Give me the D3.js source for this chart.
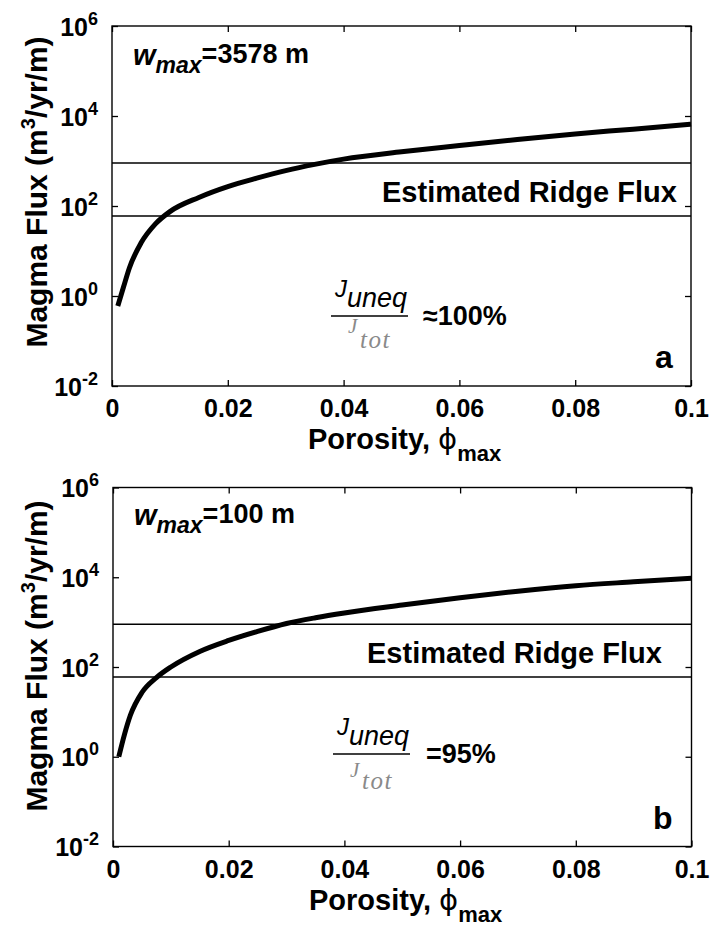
<!DOCTYPE html>
<html>
<head>
<meta charset="utf-8">
<script src="https://cdn.jsdelivr.net/npm/d3@7/dist/d3.min.js"></script>
<style>
  html, body { margin: 0; padding: 0; background: #fff; }
  svg { display: block; }
  text { font-family: "Liberation Sans", Arial, Helvetica, sans-serif; fill: #000; }
</style>
</head>
<body>
<svg id="fig" width="712" height="928"></svg>
<script>
// Maximum porosity (x) and magma flux (y, m^3/yr/m) for the two channel widths
const porosity   = [0.001, 0.002, 0.003, 0.005, 0.0075, 0.01, 0.015, 0.02, 0.025, 0.03, 0.035, 0.04, 0.05, 0.06, 0.07, 0.08, 0.09, 0.1];
const fluxWide   = [0.6, 1.6, 4.2, 15, 40, 75, 155, 270, 415, 610, 840, 1100, 1600, 2200, 3000, 4000, 5100, 6600];
const fluxNarrow = [1.0, 3.2, 8.4, 27, 58, 100, 222, 390, 620, 930, 1250, 1600, 2400, 3500, 4900, 6500, 7900, 9500];

// Axis ticks
const porosityTicks      = [0, 0.02, 0.04, 0.06, 0.08, 0.1];
const porosityTickLabels = ["0", "0.02", "0.04", "0.06", "0.08", "0.1"];
const fluxTicks          = [1e-2, 1e0, 1e2, 1e4, 1e6];
const fluxTickExponents  = ["-2", "0", "2", "4", "6"];

// Estimated ridge flux band (m^3/yr/m)
const ridgeFluxRange = [60, 900];

// Panel annotations
const channelWidths       = ["3578", "100"];
const unequilibratedShare = ["\u2248100%", "=95%"];
const panelLetters        = ["a", "b"];

const svg = d3.select("#fig");

const panels = [
  { left: 112, top: 26,    width: 579,   height: 360, flux: fluxWide,
    wY: 39,   fracY: 271,   fracX: 223, shareX: 311, letterX: 543, letterY: 342, ridgeX: 270, denomShift: 0 },
  { left: 113, top: 487.5, width: 578.5, height: 359, flux: fluxNarrow,
    wY: 37.5, fracY: 247.5, fracX: 224, shareX: 313, letterX: 540, letterY: 341.5, ridgeX: 254, denomShift: 6 }
];

panels.forEach((p, i) => {
  const g = svg.append("g").attr("transform", `translate(${p.left},${p.top})`);

  const x = d3.scaleLinear().domain([0, 0.1]).range([0, p.width]);
  const y = d3.scaleLog().domain([1e-2, 1e6]).range([p.height, 0]);

  // Ridge flux band boundaries
  g.selectAll("line.ridge").data(ridgeFluxRange).join("line")
    .attr("class", "ridge")
    .attr("x1", 0).attr("x2", p.width)
    .attr("y1", d => y(d)).attr("y2", d => y(d))
    .attr("stroke", "#000").attr("stroke-width", 1.4);

  // Flux curve
  const pts = porosity.map((phi, k) => [phi, p.flux[k]]);
  const line = d3.line().x(d => x(d[0])).y(d => y(d[1])).curve(d3.curveMonotoneX);
  g.append("path").datum(pts)
    .attr("d", line)
    .attr("fill", "none").attr("stroke", "#000")
    .attr("stroke-width", 5).attr("stroke-linecap", "butt").attr("stroke-linejoin", "round");

  // Axes with inward ticks
  const tick = 6;
  const xb = g.append("g").attr("transform", `translate(0,${p.height})`)
    .call(d3.axisBottom(x).tickValues(porosityTicks).tickSize(-tick)
      .tickFormat((d, k) => porosityTickLabels[k]));
  xb.selectAll("text").attr("dy", null).attr("y", 31)
    .style("font-size", "25px").style("font-weight", "bold");

  g.append("g")
    .call(d3.axisTop(x).tickValues(porosityTicks).tickSize(-tick).tickFormat(""));
  g.append("g").attr("transform", `translate(${p.width},0)`)
    .call(d3.axisRight(y).tickValues(fluxTicks).tickSize(-tick).tickFormat(""));

  const yl = g.append("g")
    .call(d3.axisLeft(y).tickValues(fluxTicks).tickSize(-tick).tickFormat(""));
  yl.selectAll(".tick text").remove();
  yl.selectAll(".tick").append("text")
    .attr("x", -14).attr("y", 9)
    .attr("text-anchor", "end")
    .style("font-weight", "bold")
    .each(function(d, k) {
      const t = d3.select(this);
      t.append("tspan").style("font-size", "25px").text("10");
      t.append("tspan").attr("dy", -11).style("font-size", "18px").text(fluxTickExponents[k]);
    });

  g.selectAll(".domain").remove();
  g.selectAll(".tick line").attr("stroke", "#000").attr("stroke-width", 1.3);

  // Plot frame
  g.append("rect")
    .attr("x", 0).attr("y", 0).attr("width", p.width).attr("height", p.height)
    .attr("fill", "none").attr("stroke", "#000").attr("stroke-width", 1.4);

  // Y axis title
  const yt = svg.append("text")
    .attr("transform", `translate(47,${p.top + p.height / 2 - (i === 0 ? 14 : 11)}) rotate(-90)`)
    .attr("text-anchor", "middle")
    .style("font-size", "30px").style("font-weight", "bold");
  yt.append("tspan").text("Magma Flux (m");
  yt.append("tspan").attr("dy", -12).style("font-size", "20px").text("3");
  yt.append("tspan").attr("dy", 12).text("/yr/m)");

  // X axis title
  const xt = g.append("text")
    .attr("x", 196).attr("y", p.height + 63)
    .style("font-size", "29px").style("font-weight", "bold");
  xt.append("tspan").text("Porosity, ");
  xt.append("tspan").style("font-family", "'DejaVu Sans', sans-serif").style("font-weight", "normal").text("\u03D5");
  xt.append("tspan").attr("dy", 12).style("font-size", "22px").text("max");

  // Channel width label
  const wl = g.append("text").attr("x", 21).attr("y", p.wY).style("font-weight", "bold");
  wl.append("tspan").style("font-size", "29px").style("font-style", "italic").text("w");
  wl.append("tspan").attr("dy", 8).style("font-size", "23px").style("font-style", "italic").text("max");
  wl.append("tspan").attr("dy", -10).style("font-size", "27px").text(`=${channelWidths[i]} m`);

  // Ridge flux band label
  g.append("text")
    .attr("x", p.ridgeX).attr("y", y(ridgeFluxRange[0]) - 14)
    .style("font-size", "29px").style("font-weight", "bold")
    .text("Estimated Ridge Flux");

  // Unequilibrated flux fraction
  const fx = p.fracX, fy = p.fracY;
  g.append("text").attr("x", fx).attr("y", fy)
    .style("font-size", "24px").style("font-style", "italic").text("J");
  g.append("text").attr("x", fx + 12).attr("y", fy + 9.5)
    .style("font-size", "27px").style("font-style", "italic").text("uneq");
  g.append("line")
    .attr("x1", fx - 4).attr("x2", fx + 73)
    .attr("y1", fy + 19).attr("y2", fy + 19)
    .attr("stroke", "#000").attr("stroke-width", 1.5);
  g.append("text").attr("x", fx + 13).attr("y", fy + 36 + p.denomShift)
    .style("font-family", "'Liberation Serif', 'Times New Roman', serif")
    .style("font-size", "21px").style("font-style", "italic").style("fill", "#8a8a8a").text("J");
  g.append("text").attr("x", fx + 25).attr("y", fy + 51 + p.denomShift / 2)
    .style("font-family", "'Liberation Serif', 'Times New Roman', serif")
    .style("font-size", "25px").style("font-style", "italic").style("fill", "#8a8a8a")
    .style("letter-spacing", "1.5px").text("tot");
  g.append("text").attr("x", p.shareX).attr("y", fy + 28)
    .style("font-size", "27px").style("font-weight", "bold")
    .text(unequilibratedShare[i]);

  // Panel letter
  g.append("text").attr("x", p.letterX).attr("y", p.letterY)
    .style("font-size", "32px").style("font-weight", "bold")
    .text(panelLetters[i]);
});
</script>
</body>
</html>
